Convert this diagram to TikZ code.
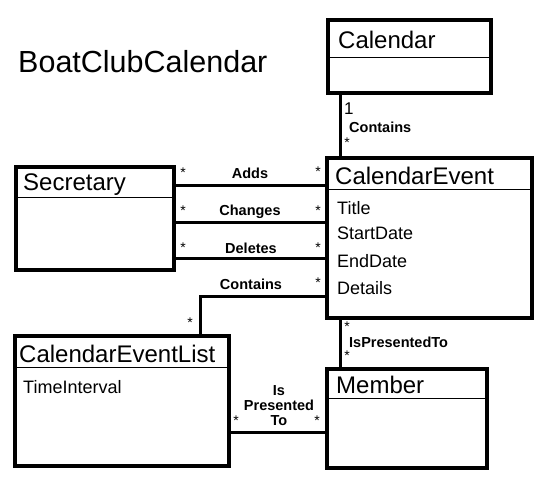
\documentclass[tikz,border=0pt]{standalone}
\usepackage{fontspec}
\setmainfont{Liberation Sans}
\begin{document}
\begin{tikzpicture}[x=1pt,y=-1pt,
  box/.style={draw, line width=4pt, inner sep=0pt, outer sep=0pt, anchor=north west},
  conn/.style={line width=3pt},
  divider/.style={line width=1pt},
  ttl/.style={anchor=base west, inner sep=0pt, font=\fontsize{24}{24}\selectfont},
  attr/.style={anchor=base west, inner sep=0pt, font=\fontsize{18}{18}\selectfont},
  lbl/.style={anchor=base, inner sep=0pt, font=\bfseries\fontsize{14.5}{14.5}\selectfont},
  mult/.style={inner sep=0pt, font=\fontsize{14}{14}\selectfont}]
\useasboundingbox (0,0) rectangle (557,498);
\fill[white] (0,0) rectangle (557,498);

% title
\node[anchor=base west, inner sep=0pt, font=\fontsize{30.5}{30.5}\selectfont] (diagtitle) at (18,72) {BoatClubCalendar};

% boxes
\node[box, minimum width=163pt, minimum height=73pt] (cal) at (328,20) {};
\node[box, minimum width=205pt, minimum height=160pt] (ev) at (327,158) {};
\node[box, minimum width=158pt, minimum height=103pt] (sec) at (16,167) {};
\node[box, minimum width=214pt, minimum height=130pt] (list) at (15,336) {};
\node[box, minimum width=160pt, minimum height=99pt] (mem) at (327,369) {};

% dividers
\draw[divider] (cal.west |- 0,57) -- (cal.east |- 0,57);
\draw[divider] (ev.west |- 0,189) -- (ev.east |- 0,189);
\draw[divider] (sec.west |- 0,197) -- (sec.east |- 0,197);
\draw[divider] (list.west |- 0,367) -- (list.east |- 0,367);
\draw[divider] (mem.west |- 0,398) -- (mem.east |- 0,398);

% box texts
\node[ttl] (calT) at (338,48) {Calendar};
\node[ttl] (evT) at (335,184) {CalendarEvent};
\node[attr] (a1) at (337,214) {Title};
\node[attr] (a2) at (337,239) {StartDate};
\node[attr] (a3) at (337,267) {EndDate};
\node[attr] (a4) at (337,294) {Details};
\node[ttl] (secT) at (23,190) {Secretary};
\node[ttl] (listT) at (19,362) {CalendarEventList};
\node[attr] (l1) at (23,393) {TimeInterval};
\node[ttl] (memT) at (336,393) {Member};

% connectors
\draw[conn] (cal.south -| 340,0) -- (ev.north -| 340,0);
\draw[conn] (sec.east |- 0,185) -- (ev.west |- 0,185);
\draw[conn] (sec.east |- 0,222) -- (ev.west |- 0,222);
\draw[conn] (sec.east |- 0,258) -- (ev.west |- 0,258);
\draw[conn] (ev.west |- 0,296) -| (list.north -| 200,0);
\draw[conn] (ev.south -| 340,0) -- (mem.north -| 340,0);
\draw[conn] (list.east |- 0,432) -- (mem.west |- 0,432);

% labels
\node[anchor=base west, inner sep=0pt, font=\fontsize{17}{17}\selectfont] (m1) at (344,114) {1};
\node[lbl, anchor=base west] (lc1) at (349,132) {Contains};
\node[mult] (m2) at (347,143) {*};

\node[lbl] (ladds) at (250,178) {Adds};
\node[mult] (m3) at (183,173) {*};
\node[mult] (m4) at (318,172) {*};
\node[lbl] (lch) at (250,215) {Changes};
\node[mult] (m5) at (183,211) {*};
\node[mult] (m6) at (318,211) {*};
\node[lbl] (ldel) at (251,253) {Deletes};
\node[mult] (m7) at (183,248) {*};
\node[mult] (m8) at (318,248) {*};
\node[lbl] (lc2) at (251,289) {Contains};
\node[mult] (m9) at (318,283) {*};
\node[mult] (m10) at (190,323) {*};

\node[mult] (m11) at (347,327) {*};
\node[lbl, anchor=base west] (lip) at (349,347) {IsPresentedTo};
\node[mult] (m12) at (347,356) {*};

\node[lbl] (lis1) at (279,395) {Is};
\node[lbl] (lis2) at (279,410) {Presented};
\node[lbl] (lis3) at (279,425) {To};
\node[mult] (m13) at (236,421) {*};
\node[mult] (m14) at (317,421) {*};
\end{tikzpicture}
\end{document}
